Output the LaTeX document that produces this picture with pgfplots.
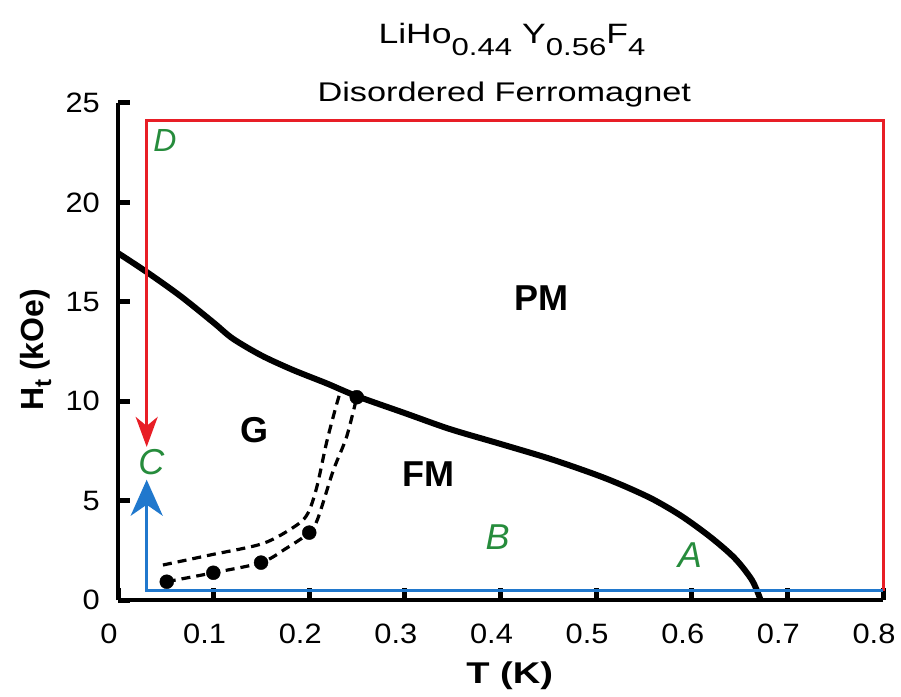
\documentclass[border=0pt]{standalone}
\usepackage{fontspec}
\setmainfont[FakeStretch=1.27]{Liberation Sans}
\newfontfamily\plainfont{Liberation Sans}
\newfontfamily\tickfont[FakeStretch=1.1]{Liberation Sans}
\usepackage{pgfplots}
\pgfplotsset{compat=1.18}
\usetikzlibrary{arrows.meta}
\definecolor{myred}{RGB}{232,30,38}
\definecolor{myblue}{RGB}{32,120,205}
\definecolor{mygreen}{RGB}{38,140,60}
\newcommand{\sub}[1]{\raisebox{-12pt}{\fontsize{24.5}{25}\selectfont #1}}
\begin{document}
\begin{tikzpicture}
\begin{axis}[
  at={(118pt,96pt)}, anchor=south west,
  scale only axis, width=765pt, height=497pt,
  xmin=0, xmax=0.8, ymin=0, ymax=25,
  axis lines*=left,
  axis line style={line width=3.5pt, black},
  tick align=inside,
  major tick length=12pt,
  tick style={line width=5pt, black},
  xtick={0,0.1,0.2,0.3,0.4,0.5,0.6,0.7,0.8},
  xticklabels={0,0.1,0.2,0.3,0.4,0.5,0.6,0.7,0.8},
  ytick={0,5,10,15,20,25},
  /pgf/number format/assume math mode=true,
  ticklabel style={font=\tickfont\fontsize{28}{30}\selectfont, inner sep=0pt},
  xticklabel style={anchor=north, yshift=-24pt, xshift=-9pt},
  yticklabel style={anchor=east, xshift=-18pt},
  clip=false,
]
% phase boundary
\addplot[black, line width=6pt, smooth] coordinates {
(0.000,17.45) (0.030,16.5) (0.065,15.3) (0.1,13.95) (0.12,13.15) (0.15,12.3)
(0.183,11.57) (0.218,10.9) (0.25,10.25) (0.3,9.4) (0.347,8.6) (0.4,7.85) (0.452,7.1) (0.5,6.3)
(0.53,5.72) (0.56,5.05) (0.59,4.2) (0.62,3.15) (0.645,2.1) (0.663,1.0) (0.672,0.0)};
% dashed curves
\addplot[black, line width=3.2pt, dash pattern=on 9pt off 6pt, smooth, tension=0.5] coordinates {
(0.051,0.92) (0.0997,1.37) (0.1496,1.88) (0.176,2.6) (0.200,3.39) (0.209,4.1) (0.225,6.5) (0.239,8.2) (0.2497,10.2)};
\addplot[black, line width=3.2pt, dash pattern=on 9pt off 6pt, smooth, tension=0.5] coordinates {
(0.047,1.76) (0.096,2.26) (0.152,2.85) (0.187,3.77) (0.199,4.4) (0.208,5.7) (0.218,7.9) (0.227,9.56) (0.232,10.4)};
\addplot[only marks, mark=*, mark size=7pt, black] coordinates {
(0.051,0.92) (0.0997,1.37) (0.1496,1.88) (0.200,3.39) (0.2497,10.2)};
% red path
\addplot[myred, line width=3pt, -{Stealth[length=30pt,width=22pt,inset=9pt]}] coordinates {
(0.8,0.47) (0.8,24.1) (0.030,24.1) (0.030,7.7)};
% blue path
\addplot[myblue, line width=3pt, -{Stealth[length=36pt,width=32pt,inset=11pt]}] coordinates {
(0.8,0.47) (0.030,0.47) (0.030,6.05)};
% labels
\node[font=\plainfont\fontsize{36}{36}\selectfont\bfseries, inner sep=0pt] at (axis cs:0.443,15.18) {PM};
\node[font=\plainfont\fontsize{36}{36}\selectfont\bfseries, inner sep=0pt] at (axis cs:0.3245,6.34) {FM};
\node[font=\plainfont\fontsize{36}{36}\selectfont\bfseries, inner sep=0pt] at (axis cs:0.143,8.53) {G};
\node[font=\plainfont\fontsize{32}{32}\selectfont\itshape, text=mygreen, inner sep=0pt] at (axis cs:0.049,23.1) {D};
\node[font=\plainfont\fontsize{36}{36}\selectfont\itshape, text=mygreen, inner sep=0pt] at (axis cs:0.035,6.95) {C};
\node[font=\plainfont\fontsize{36}{36}\selectfont\itshape, text=mygreen, inner sep=0pt] at (axis cs:0.397,3.17) {B};
\node[font=\plainfont\fontsize{36}{36}\selectfont\itshape, text=mygreen, inner sep=0pt] at (axis cs:0.598,2.26) {A};
% titles
\node[anchor=base, font=\fontsize{27}{30}\selectfont, inner sep=0pt] at (rel axis cs:0.505,1.004) {Disordered Ferromagnet};
\node[anchor=base, font=\fontsize{28}{30}\selectfont, inner sep=0pt] at (rel axis cs:0.515,1.1207) {LiHo\sub{0.44} Y\sub{0.56}F\sub{4}};
% axis labels
\node[anchor=base, font=\fontsize{30}{30}\selectfont\bfseries, inner sep=0pt] at (rel axis cs:0.512,-0.167) {T (K)};
\node[anchor=base, rotate=90, font=\plainfont\fontsize{32}{32}\selectfont\bfseries, inner sep=0pt] at (rel axis cs:-0.098,0.503) {H\raisebox{-8pt}{\fontsize{24}{24}\selectfont t} (kOe)};
\end{axis}
\pgfresetboundingbox
\path (0,0) rectangle (901pt,696pt);
\end{tikzpicture}
\end{document}
